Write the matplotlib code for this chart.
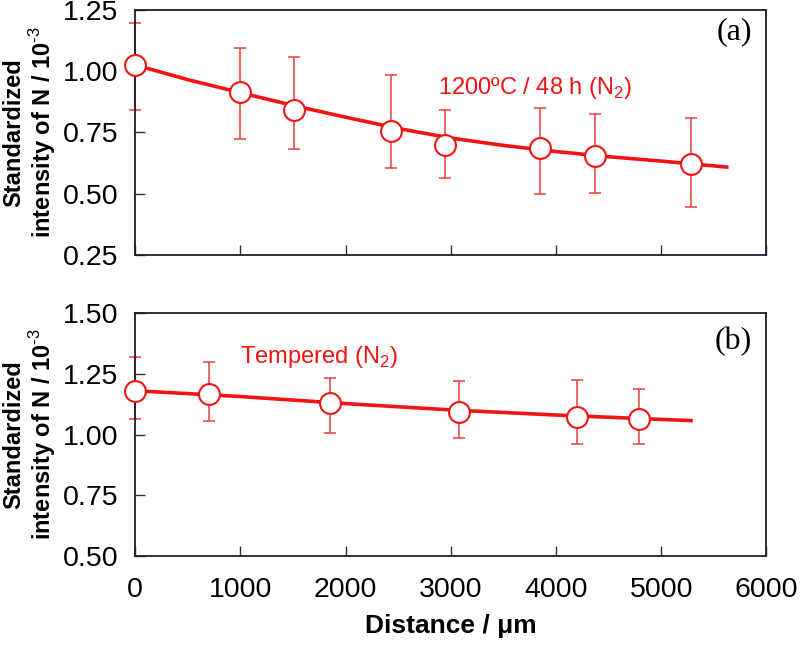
import numpy as np
import matplotlib.pyplot as plt

plt.rcParams['font.family'] = ['Liberation Sans', 'DejaVu Sans']
plt.rcParams['mathtext.fontset'] = 'custom'
plt.rcParams['mathtext.rm'] = 'Liberation Sans'
plt.rcParams['mathtext.bf'] = 'Liberation Sans:bold'

# (a) 1200C / 48 h (N2)
dist_a = [0, 1000, 1510, 2435, 2947, 3850, 4373, 5285]
int_a = [1.025, 0.915, 0.842, 0.756, 0.699, 0.687, 0.654, 0.621]
err_hi_a = [1.197, 1.095, 1.058, 0.985, 0.842, 0.850, 0.826, 0.810]
err_lo_a = [0.842, 0.723, 0.683, 0.605, 0.564, 0.499, 0.503, 0.446]
fit_x_a = [0, 500, 1000, 1500, 2000, 2500, 3000, 3500, 4000, 4500, 5000, 5640]
fit_y_a = [1.025, 0.965, 0.912, 0.860, 0.812, 0.766, 0.727, 0.697, 0.672, 0.651, 0.633, 0.608]

# (b) Tempered (N2)
dist_b = [0, 705, 1849, 3080, 4200, 4785]
int_b = [1.179, 1.167, 1.128, 1.094, 1.073, 1.065]
err_hi_b = [1.319, 1.296, 1.231, 1.221, 1.224, 1.187]
err_lo_b = [1.065, 1.054, 1.006, 0.987, 0.960, 0.962]
fit_x_b = [0, 1000, 2000, 3000, 4000, 5000, 5300]
fit_y_b = [1.180, 1.156, 1.127, 1.101, 1.080, 1.062, 1.057]

red = '#f01414'
err_red = '#ec3c3c'
spine_col = '#1c1c34'

fig = plt.figure(figsize=(8, 6.49), dpi=100)
ax_a = fig.add_axes([0.169, 0.607, 0.789, 0.378])
ax_b = fig.add_axes([0.169, 0.143, 0.789, 0.375])


def draw_panel(ax, x, y, hi, lo, fx, fy):
    x = np.array(x)
    y = np.array(y)
    yerr = [y - np.array(lo), np.array(hi) - y]
    ax.plot(fx, fy, color=red, lw=2.6, zorder=2, solid_capstyle='butt')
    ax.errorbar(x, y, yerr=yerr, fmt='none', ecolor=err_red, elinewidth=1.1,
                capsize=4.5, capthick=1.1, zorder=1, clip_on=False)
    ax.plot(x, y, 'o', ms=15, mfc='white', mec=red, mew=1.5, zorder=3, clip_on=False)
    ax.set_xlim(0, 6000)
    ax.set_xticks([0, 1000, 2000, 3000, 4000, 5000, 6000])
    for s in ax.spines.values():
        s.set_color(spine_col)
        s.set_linewidth(1.3)
    ax.tick_params(direction='in', length=7, width=1, color='#333333',
                   labelsize=20.5, pad=12, top=False, right=False)
    ax.set_ylabel('Standardized\nintensity of N / 10$^{\\text{-3}}$',
                  fontsize=17, fontweight='bold', linespacing=1.1)
    ax.yaxis.set_label_coords(-0.122, 0.5)


draw_panel(ax_a, dist_a, int_a, err_hi_a, err_lo_a, fit_x_a, fit_y_a)
ax_a.set_ylim(0.25, 1.25)
ax_a.set_yticks([0.25, 0.50, 0.75, 1.00, 1.25])
ax_a.yaxis.set_major_formatter(plt.FormatStrFormatter('%.2f'))
ax_a.tick_params(axis='x', labelbottom=False)
ax_a.text(2880, 0.93, '1200ºC / 48 h (N$_2$)', color=red, fontsize=17, va='center')
ax_a.text(0.977, 0.91, '(a)', transform=ax_a.transAxes, fontsize=23,
          family='Liberation Serif', ha='right', va='center')

draw_panel(ax_b, dist_b, int_b, err_hi_b, err_lo_b, fit_x_b, fit_y_b)
ax_b.set_ylim(0.50, 1.50)
ax_b.set_yticks([0.50, 0.75, 1.00, 1.25, 1.50])
ax_b.yaxis.set_major_formatter(plt.FormatStrFormatter('%.2f'))
ax_b.tick_params(axis='x', pad=15)
ax_b.text(1000, 1.32, 'Tempered (N$_2$)', color=red, fontsize=17, va='center')
ax_b.text(0.977, 0.88, '(b)', transform=ax_b.transAxes, fontsize=23,
          family='Liberation Serif', ha='right', va='center')
ax_b.set_xlabel('Distance / μm', fontsize=19, fontweight='bold', labelpad=8)

fig.savefig('out.png', dpi=100)
